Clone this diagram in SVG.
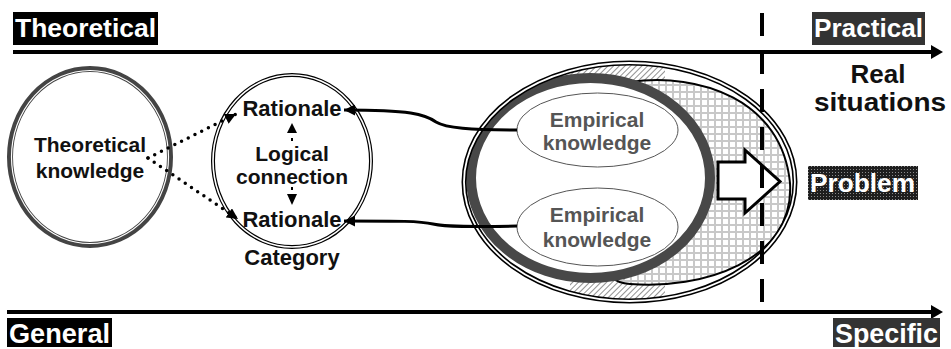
<svg xmlns="http://www.w3.org/2000/svg" width="951" height="349" viewBox="0 0 951 349">
<style>
.lbl{font-family:"Liberation Sans",Arial,sans-serif;font-weight:bold;fill:#fff}
.t{font-family:"Liberation Sans",Arial,sans-serif;font-weight:bold;font-size:21px;fill:#111;text-anchor:middle}
.emp{fill:#555}
.axis{stroke:#000;stroke-width:4;fill:none}
.dot{stroke:#000;stroke-width:3.5;stroke-linecap:round;stroke-dasharray:0 7.5;fill:none}
.conn{stroke:#000;stroke-width:3;fill:none}
</style>
<defs>
<marker id="ah" viewBox="0 0 10 10" refX="10" refY="5" markerWidth="11" markerHeight="11" markerUnits="userSpaceOnUse" orient="auto"><path d="M0,0 L10,5 L0,10 z" fill="#000"/></marker>
<marker id="axh" viewBox="0 0 12 14" refX="2" refY="7" markerWidth="12" markerHeight="14" markerUnits="userSpaceOnUse" orient="auto"><path d="M0,0 L12,7 L0,14 z" fill="#000"/></marker>
<pattern id="grid" width="7" height="7" patternUnits="userSpaceOnUse"><rect width="7" height="7" fill="#fff"/><path d="M0,1 H7 M1,0 V7" stroke="#c8c8c8" stroke-width="2"/></pattern>
<pattern id="hatch" width="4" height="4" patternUnits="userSpaceOnUse" patternTransform="rotate(45)"><rect width="4" height="4" fill="#fff"/><path d="M0,0 V4" stroke="#555" stroke-width="1.3"/></pattern>
<pattern id="dots" width="3" height="3" patternUnits="userSpaceOnUse"><rect width="3" height="3" fill="#1e1e1e"/><rect x="1" y="1" width="1" height="1" fill="#8a8a8a"/></pattern>
<clipPath id="outerClip"><ellipse cx="629.5" cy="182" rx="165.5" ry="119"/></clipPath>
</defs>
<rect width="951" height="349" fill="#fff"/>

<g id="axes">
<line class="axis" x1="13" y1="52" x2="933" y2="52" marker-end="url(#axh)"/>
<line class="axis" x1="7" y1="312" x2="933" y2="312" marker-end="url(#axh)"/>
</g>

<g id="label-theoretical"><rect x="13" y="12" width="145" height="33" fill="#000"/><text class="lbl" x="15" y="37" font-size="26" textLength="141" lengthAdjust="spacingAndGlyphs">Theoretical</text></g>
<g id="label-practical"><rect x="812" y="12" width="113" height="33" fill="#333"/><text class="lbl" x="814" y="37" font-size="26" textLength="109" lengthAdjust="spacingAndGlyphs">Practical</text></g>
<g id="label-general"><rect x="7" y="318" width="105" height="29" fill="#000"/><text class="lbl" x="9" y="343" font-size="28" textLength="101" lengthAdjust="spacingAndGlyphs">General</text></g>
<g id="label-specific"><rect x="833" y="318" width="107" height="29" fill="#333"/><text class="lbl" x="835" y="343" font-size="28" textLength="103" lengthAdjust="spacingAndGlyphs">Specific</text></g>
<g id="real-situations">
<text class="t" x="878" y="83" style="font-size:26px">Real</text>
<text class="t" x="880" y="111" style="font-size:26px" textLength="132" lengthAdjust="spacingAndGlyphs">situations</text>
</g>

<g id="theoretical-knowledge">
<ellipse cx="90" cy="157" rx="80" ry="88" fill="#fff" stroke="#444" stroke-width="6"/>
<ellipse cx="90" cy="157" rx="78.5" ry="86.5" fill="none" stroke="#fff" stroke-width="1.2"/>
<text class="t" x="90" y="152">Theoretical</text>
<text class="t" x="90" y="178">knowledge</text>
</g>

<g id="category">
<ellipse cx="292" cy="161" rx="79" ry="86" fill="#fff" stroke="#000" stroke-width="4"/>
<ellipse cx="292" cy="161" rx="79" ry="86" fill="none" stroke="#fff" stroke-width="1.6"/>
<text class="t" x="292" y="116" style="font-size:22px">Rationale</text>
<text class="t" x="292" y="161">Logical</text>
<text class="t" x="292" y="184">connection</text>
<text class="t" x="292" y="227" style="font-size:22px">Rationale</text>
<text class="t" x="292" y="265" style="font-size:22px">Category</text>
</g>

<g id="real-domain">
<ellipse cx="629.5" cy="182" rx="165.5" ry="119" fill="#fff"/>
<rect x="570" y="55" width="95" height="255" fill="url(#hatch)" clip-path="url(#outerClip)"/>
<path d="M630 82 C700 72 782 100 790 183 C795 262 700 290 630 284 C560 280 560 85 630 82 Z" fill="url(#grid)" stroke="#000" stroke-width="2"/>
<ellipse cx="590.5" cy="178" rx="119.5" ry="100" fill="#fff" stroke="#484848" stroke-width="10"/>
<ellipse cx="629.5" cy="182" rx="165.5" ry="119" fill="none" stroke="#000" stroke-width="5"/>
<ellipse cx="629.5" cy="182" rx="165.5" ry="119" fill="none" stroke="#fff" stroke-width="1.8"/>
</g>

<g id="empirical-1">
<ellipse cx="597.5" cy="130" rx="80.5" ry="37" fill="#fff" stroke="#555" stroke-width="1"/>
<text class="t emp" x="597" y="127">Empirical</text>
<text class="t emp" x="597" y="150">knowledge</text>
</g>
<g id="empirical-2">
<ellipse cx="597.5" cy="227" rx="80.5" ry="39" fill="#fff" stroke="#555" stroke-width="1"/>
<text class="t emp" x="597" y="222">Empirical</text>
<text class="t emp" x="597" y="247">knowledge</text>
</g>

<g id="block-arrow">
<polygon points="718,162 745,162 745,150 780,181.5 745,213 745,199 718,199" fill="#fff" stroke="#000" stroke-width="3" stroke-linejoin="miter"/>
</g>

<g id="problem"><rect x="808" y="166" width="110" height="34" fill="url(#dots)"/><text class="lbl" x="810" y="192" font-size="26" textLength="105" lengthAdjust="spacingAndGlyphs">Problem</text></g>

<g id="divider">
<line x1="762" y1="13" x2="762" y2="303" stroke="#000" stroke-width="4" stroke-dasharray="23 15"/>
</g>

<g id="connectors">
<path class="dot" d="M148 158 L236 114" marker-end="url(#ah)"/>
<path class="dot" d="M148 158 L238 219" marker-end="url(#ah)"/>
<path class="conn" d="M517 130 C470 130 446 128 436 122 C425 114 410 110 344 110" marker-end="url(#ah)"/>
<path class="conn" d="M517 226 C470 227 446 227 433 224 C420 221 400 221 344 221" marker-end="url(#ah)"/>
<line x1="292" y1="138" x2="292" y2="141" stroke="#000" stroke-width="2"/>
<polygon points="292,123 297,133 287,133" fill="#000"/>
<line x1="292" y1="187" x2="292" y2="190" stroke="#000" stroke-width="2"/>
<polygon points="292,205 297,194 287,194" fill="#000"/>
</g>
</svg>
